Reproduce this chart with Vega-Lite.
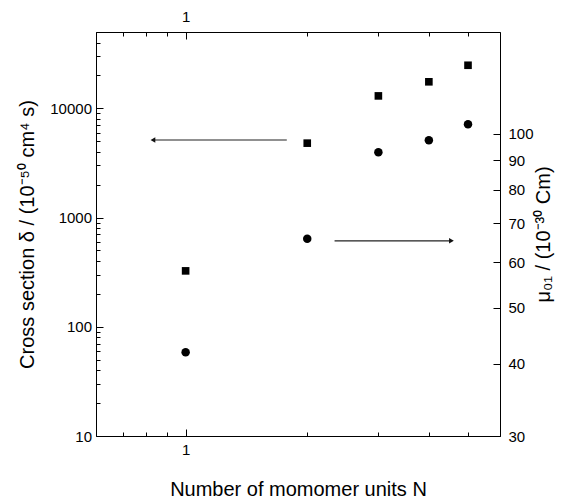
{
  "$schema": "https://vega.github.io/schema/vega-lite/v6.json",
  "width": 404,
  "height": 404,
  "autosize": {"type": "none"},
  "padding": {"left": 96, "top": 32, "right": 68, "bottom": 66},
  "background": "white",
  "config": {
    "font": "Liberation Sans",
    "view": {"stroke": null},
    "axis": {
      "grid": false,
      "domainColor": "black",
      "domainWidth": 1,
      "tickColor": "black",
      "tickWidth": 1,
      "labelColor": "black",
      "labelFontSize": 15,
      "labelFont": "Liberation Sans",
      "titleFont": "Liberation Sans",
      "titleFontSize": 20,
      "titleFontWeight": "normal",
      "titleColor": "black"
    }
  },
  "datasets": {
    "delta": [
      {"N": 1, "delta": 325},
      {"N": 2, "delta": 4800},
      {"N": 3, "delta": 13000},
      {"N": 4, "delta": 17500},
      {"N": 5, "delta": 24800}
    ],
    "mu": [
      {"N": 1, "mu": 41.9},
      {"N": 2, "mu": 65.8},
      {"N": 3, "mu": 92.9},
      {"N": 4, "mu": 97.5},
      {"N": 5, "mu": 103.9}
    ],
    "arrows": [
      {"from": 1.78, "to": 0.83, "y": 5130, "dir": "left"},
      {"from": 2.337, "to": 4.55, "y": 612, "dir": "right"}
    ]
  },
  "layer": [
    {
      "layer": [
        {
          "data": {"name": "arrows"},
          "mark": {"type": "rule", "color": "#222", "strokeWidth": 1.2},
          "encoding": {
            "x": {"field": "from", "type": "quantitative"},
            "x2": {"field": "to"},
            "y": {"field": "y", "type": "quantitative"}
          }
        },
        {
          "data": {"name": "arrows"},
          "mark": {"type": "point", "filled": true, "color": "#111", "opacity": 1, "size": 30},
          "encoding": {
            "x": {"field": "to", "type": "quantitative"},
            "y": {"field": "y", "type": "quantitative"},
            "shape": {"field": "dir", "type": "nominal", "scale": {"domain": ["left", "right"], "range": ["triangle-left", "triangle-right"]}, "legend": null}
          }
        },
        {
          "data": {"name": "delta"},
          "mark": {"type": "point", "shape": "square", "filled": true, "color": "black", "opacity": 1, "size": 58},
          "encoding": {
            "x": {"field": "N", "type": "quantitative"},
            "y": {"field": "delta", "type": "quantitative"}
          }
        }
      ],
      "encoding": {
        "x": {
          "field": "N", "type": "quantitative",
          "scale": {"type": "log", "domain": [0.6, 6], "nice": false},
          "axis": {
            "orient": "bottom",
            "title": "Number of momomer units N",
            "values": [0.6, 0.7, 0.8, 0.9, 1, 2, 3, 4, 5, 6],
            "labelExpr": "datum.value == 1 ? '1' : ''",
            "tickSize": {"condition": {"test": "datum.value == 1", "value": -7}, "value": -4},
            "labelPadding": 13,
            "titlePadding": 22
          }
        },
        "y": {
          "field": "delta", "type": "quantitative",
          "scale": {"type": "log", "domain": [10, 50000], "nice": false},
          "axis": {
            "orient": "left",
            "title": "Cross section δ / (10⁻⁵⁰ cm⁴ s)",
            "values": [10, 20, 30, 40, 50, 60, 70, 80, 90, 100, 200, 300, 400, 500, 600, 700, 800, 900, 1000, 2000, 3000, 4000, 5000, 6000, 7000, 8000, 9000, 10000, 20000, 30000, 40000, 50000],
            "labelExpr": "(datum.value == 10 || datum.value == 100 || datum.value == 1000 || datum.value == 10000) ? format(datum.value, 'd') : ''",
            "tickSize": {"condition": {"test": "datum.value == 10 || datum.value == 100 || datum.value == 1000 || datum.value == 10000", "value": -7}, "value": -4},
            "labelPadding": 11.5,
            "titlePadding": 12
          }
        }
      }
    },
    {
      "data": {"name": "mu"},
      "mark": {"type": "point", "shape": "circle", "filled": true, "color": "black", "opacity": 1, "size": 72},
      "encoding": {
        "x": {
          "field": "N", "type": "quantitative",
          "scale": {"type": "log", "domain": [0.6, 6], "nice": false},
          "axis": {
            "orient": "top",
            "title": null,
            "values": [0.6, 0.7, 0.8, 0.9, 1, 2, 3, 4, 5, 6],
            "labelExpr": "datum.value == 1 ? '1' : ''",
            "tickSize": {"condition": {"test": "datum.value == 1", "value": -7}, "value": -4},
            "labelPadding": 14.5
          }
        },
        "y": {
          "field": "mu", "type": "quantitative",
          "scale": {"type": "log", "domain": [30, 150], "nice": false},
          "axis": {
            "orient": "right",
            "title": "μ₀₁ / (10⁻³⁰ Cm)",
            "titleAngle": 270,
            "values": [30, 40, 50, 60, 70, 80, 90, 100],
            "format": "d",
            "tickSize": -7,
            "labelPadding": 15,
            "titlePadding": 20
          }
        }
      }
    }
  ],
  "resolve": {
    "scale": {"x": "independent", "y": "independent"},
    "axis": {"x": "independent", "y": "independent"}
  }
}
